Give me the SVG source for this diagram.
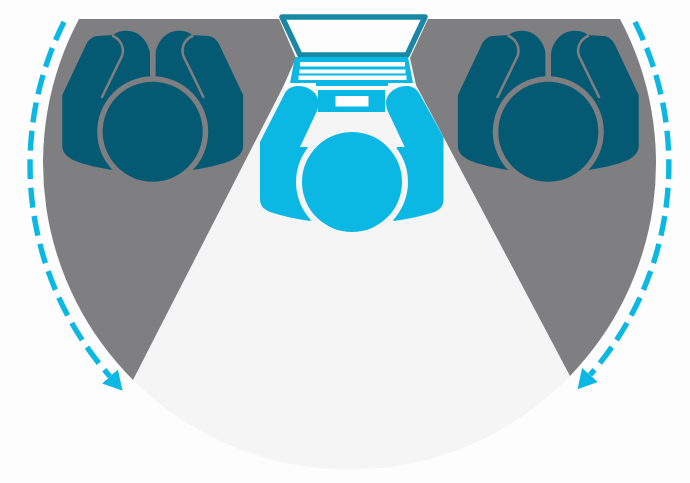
<svg xmlns="http://www.w3.org/2000/svg" width="690" height="483" viewBox="0 0 690 483">
<style>
.grey{fill:#7f7e81}
.light{fill:#f5f5f6}
.blue{fill:#0bb8e4}
.dark{fill:#055a73}
.slit{fill:none;stroke:#7f7e81;stroke-width:2.6;stroke-linecap:round}
.white{fill:#fdfdfe}
.dash{fill:none;stroke:#0bb8e4;stroke-width:5.4;stroke-dasharray:20 8.5}
</style>
<defs>
<marker id="arrow" markerUnits="userSpaceOnUse" markerWidth="20" markerHeight="24" refX="0" refY="12" orient="auto" viewBox="0 0 20 24">
<path d="M0,1.500 L19,12 L0,22.500 Z" fill="#0bb8e4"/>
</marker>
<g id="hands">
<path class="dark" d="M98,36 C103,35.500 109,35.500 113.300,35 C117,31.500 122,30.500 127,30.700 C138,31 146,39 149,49 C150,52 150,54 150,58 L150,90 L112.700,170 C100,168 85,165 73,160 C66,156 62.500,152 62.300,146 L62.300,95 L85,47 C88,40 92,36 98,36 Z"/>
<path class="slit" d="M113,36 C120,39 125,47 122,56 L102,97"/>
</g>
<g id="worker">
<use href="#hands"/>
<use href="#hands" transform="matrix(-1 0 0 1 305.400 0)"/>
<rect x="150" y="50" width="5.400" height="30" class="grey"/>
<circle cx="152.700" cy="131.700" r="55.500" class="grey"/>
<circle cx="152.700" cy="131.700" r="50" class="dark"/>
</g>
</defs>
<rect width="690" height="483" fill="#fdfdfd"/>
<g id="field">
<path class="light" d="M283,87 L133,380 A306.500 306.500 0 0 0 570,376 L416,85 Z"/>
<path class="grey" d="M79,19 H279 L296,58 L283,87 L133,380 A306.500 306.500 0 0 1 79,19 Z"/>
<path class="grey" d="M620,19 H428 L410,58 L416,85 L570,376 A306.500 306.500 0 0 0 620,19 Z"/>
</g>
<g id="observer-left"><use href="#worker"/></g>
<g id="observer-right"><use href="#worker" x="395.600"/></g>
<g id="laptop">
<path class="white" d="M282,17 H425 L407,55 H300 Z"/>
<path d="M282,17 H425 L407,55 H300 Z" fill="none" stroke="#1a88a5" stroke-width="5.500" stroke-linejoin="round"/>
<path class="blue" d="M295,57 H408 L413,83 H290 Z"/>
<path class="white" d="M300,62 H405 V66.500 H300 Z M299.500,69.500 H405.500 V73.500 H299.500 Z M298.500,75.500 H406.500 V80 H298.500 Z"/>
<path class="white" d="M313,86 H390 V88.500 H313 Z"/>
<path class="blue" d="M316,83 H388 V86 H316 Z M318,90 H385 V112 H318 Z"/>
<rect x="335.500" y="96" width="33" height="10.500" class="white"/>
</g>
<g id="operator">
<path class="blue" d="M298,86 C309,86 318,93 318.500,102 C318.500,106 318,109 316,113 L300,147 L307,147 L352,182 L310,221 C295,219 282,216 270,212 C263,209 260,205 260,199 L260,142 L285,93 C288,88 293,86 298,86 Z"/>
<path class="blue" d="M406.700,86 C395.700,86 386.700,93 386,102 C386,106 386.700,109 388.700,113 L404.700,147 L397.700,147 L352,182 L394,221 C409,219 422,216 434.700,212 C441,209 443.500,205 443.500,199 L443.500,137 L419,93 C416,88 411,86 406.700,86 Z"/>
<circle cx="352" cy="182" r="56" class="light"/>
<circle cx="352" cy="182" r="50" class="blue"/>
</g>
<g id="connectors">
<path class="dash" marker-end="url(#arrow)" d="M64,22 A319 319 0 0 0 110,376.500"/>
<path class="dash" marker-end="url(#arrow)" d="M635,22 A319 319 0 0 1 590,375"/>
</g>
</svg>
